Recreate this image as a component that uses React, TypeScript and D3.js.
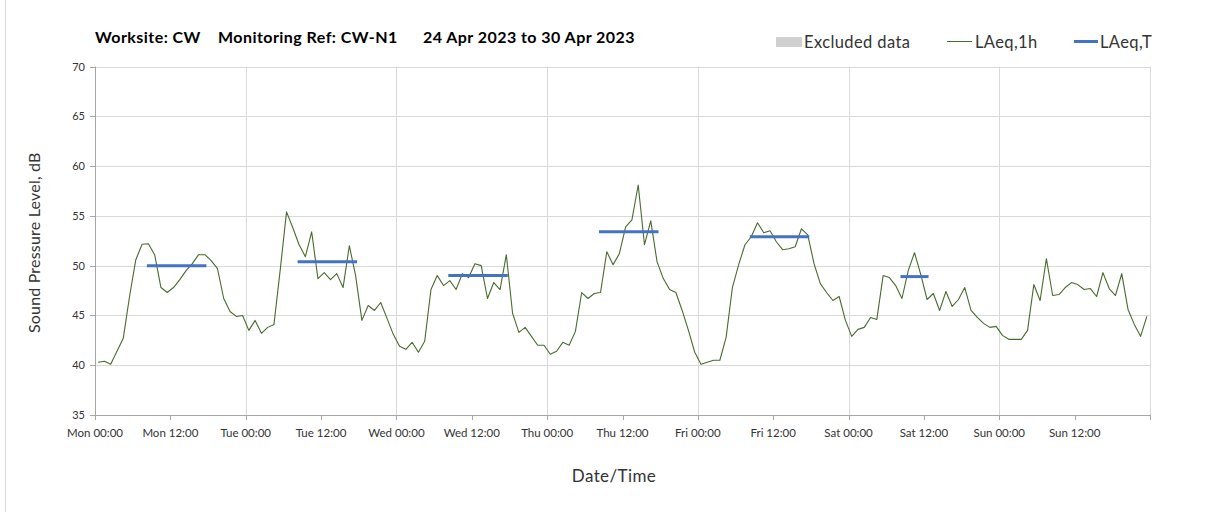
import React from 'react';
import * as d3 from 'd3';

// Hourly LAeq,1h values (dB), one array per day, Mon 24 Apr – Sun 30 Apr 2023
const monValues = [40.3, 40.4, 40.1, 41.4, 42.7, 46.9, 50.6, 52.15, 52.2, 51.1, 47.8, 47.3, 47.8, 48.6, 49.5, 50.2, 51.1, 51.1, 50.5, 49.7, 46.7, 45.4, 44.9, 45.0];
const tueValues = [43.5, 44.5, 43.2, 43.8, 44.1, 49.6, 55.4, 53.8, 52.1, 50.9, 53.4, 48.7, 49.3, 48.6, 49.2, 47.8, 52.0, 49.0, 44.5, 46.0, 45.5, 46.3, 44.7, 43.1];
const wedValues = [41.9, 41.6, 42.3, 41.3, 42.4, 47.6, 49.0, 48.0, 48.5, 47.6, 49.2, 48.8, 50.2, 50.0, 46.7, 48.3, 47.6, 51.1, 45.2, 43.3, 43.8, 42.9, 42.0, 42.0];
const thuValues = [41.1, 41.4, 42.3, 42.0, 43.4, 47.3, 46.7, 47.2, 47.3, 51.4, 50.1, 51.2, 53.9, 54.6, 58.1, 52.1, 54.5, 50.4, 48.7, 47.6, 47.3, 45.5, 43.5, 41.3];
const friValues = [40.1, 40.3, 40.5, 40.5, 42.8, 47.8, 50.1, 52.1, 52.9, 54.3, 53.3, 53.5, 52.4, 51.6, 51.7, 51.9, 53.7, 53.1, 50.2, 48.2, 47.3, 46.5, 46.9, 44.5];
const satValues = [42.9, 43.6, 43.8, 44.8, 44.6, 49.0, 48.8, 48.0, 46.7, 49.5, 51.3, 49.1, 46.6, 47.2, 45.5, 47.4, 45.9, 46.6, 47.8, 45.5, 44.8, 44.2, 43.8, 43.9];
const sunValues = [43.0, 42.6, 42.6, 42.6, 43.5, 48.1, 46.5, 50.7, 47.0, 47.1, 47.8, 48.3, 48.1, 47.6, 47.7, 46.9, 49.3, 47.7, 47.0, 49.2, 45.6, 44.1, 42.9, 44.9];

const hourlyValues = [...monValues, ...tueValues, ...wedValues, ...thuValues, ...friValues, ...satValues, ...sunValues];

// LAeq,T (daytime period averages)
const laeqTDay = [0, 1, 2, 3, 4, 5];
const laeqTValue = [50.0, 50.4, 49.0, 53.4, 52.9, 48.9];
const laeqTStartHour = [8, 8, 8, 8, 8, 8];
const laeqTEndHour = [18, 18, 18, 18, 18, 13];

const dayNames = ['Mon', 'Tue', 'Wed', 'Thu', 'Fri', 'Sat', 'Sun'];
const xTickHours = d3.range(0, 168, 12);
const xTickLabels = xTickHours.map((h) => `${dayNames[Math.floor(h / 24)]} ${h % 24 === 0 ? '00' : '12'}:00`);
const yTicks = [35, 40, 45, 50, 55, 60, 65, 70];

const W = 1208;
const H = 512;
const left = 95;
const right = 1150;
const top = 66.5;
const bottom = 415;

const FONT = 'Lato, "Open Sans", sans-serif';

export default function App() {
  const x = d3.scaleLinear().domain([0, 168]).range([left, right]);
  const y = d3.scaleLinear().domain([35, 70]).range([bottom, top]);

  const line = d3
    .line<number>()
    .x((_, i) => x(i + 0.5))
    .y((d) => y(d));

  const dayLines = d3.range(1, 8).map((d) => d * 24);

  return (
    <svg width={W} height={H} style={{ position: 'absolute', left: 0, top: 0, background: '#fff' }}>
      <rect x={0} y={0} width={W} height={H} fill="#fff" />
      <line x1={5.5} x2={5.5} y1={0} y2={H} stroke="#d9d9d9" />

      {/* Title */}
      <g fontFamily={FONT} fontWeight="bold" fontSize={16} fill="#000" letterSpacing={0.45}>
        <text x={95} y={43}>Worksite: CW</text>
        <text x={218} y={43}>Monitoring Ref: CW-N1</text>
        <text x={423} y={43}>24 Apr 2023 to 30 Apr 2023</text>
      </g>

      {/* Legend */}
      <g fontFamily={FONT} fontSize={16.5} fill="#333" letterSpacing={0.4}>
        <rect x={776} y={37} width={26} height={10} fill="#d0d0d0" />
        <text x={804} y={47.5}>Excluded data</text>
        <line x1={947} x2={972} y1={41.5} y2={41.5} stroke="#4a6b2e" strokeWidth={1} />
        <text x={975} y={47.5}>LAeq,1h</text>
        <line x1={1074} x2={1098} y1={41.5} y2={41.5} stroke="#4472c4" strokeWidth={3} />
        <text x={1100} y={47.5}>LAeq,T</text>
      </g>

      {/* Grid */}
      <g stroke="#d9d9d9" strokeWidth={1}>
        {yTicks.filter((t) => t > 35).map((t) => (
          <line key={t} x1={left} x2={right} y1={Math.round(y(t)) + 0.5} y2={Math.round(y(t)) + 0.5} />
        ))}
        {dayLines.map((h) => (
          <line key={h} x1={Math.round(x(h)) + 0.5} x2={Math.round(x(h)) + 0.5} y1={top} y2={bottom} />
        ))}
      </g>

      {/* Axes */}
      <g stroke="#a6a6a6" strokeWidth={1}>
        <line x1={left + 0.5} x2={left + 0.5} y1={top} y2={bottom + 0.5} />
        <line x1={left} x2={right} y1={bottom + 0.5} y2={bottom + 0.5} />
        {yTicks.map((t) => (
          <line key={t} x1={left - 5} x2={left} y1={Math.round(y(t)) + 0.5} y2={Math.round(y(t)) + 0.5} />
        ))}
        {[...xTickHours, 168].map((h) => (
          <line key={h} x1={Math.round(x(h)) + 0.5} x2={Math.round(x(h)) + 0.5} y1={bottom} y2={bottom + 5} />
        ))}
      </g>

      {/* Y tick labels */}
      <g fontFamily={FONT} fontSize={11} fill="#333" textAnchor="end">
        {yTicks.map((t) => (
          <text key={t} x={85} y={y(t) + 4}>{t}</text>
        ))}
      </g>

      {/* X tick labels */}
      <g fontFamily={FONT} fontSize={11.5} fill="#333" textAnchor="middle">
        {xTickHours.map((h, i) => (
          <text key={h} x={x(h)} y={437}>{xTickLabels[i]}</text>
        ))}
      </g>

      {/* Axis titles */}
      <text x={614} y={482} textAnchor="middle" fontFamily={FONT} fontSize={17} letterSpacing={0.4} fill="#333">Date/Time</text>
      <text
        transform={`translate(40, ${(top + bottom) / 2 + 2}) rotate(-90)`}
        textAnchor="middle"
        fontFamily={FONT}
        fontSize={16}
        letterSpacing={0.2}
        fill="#333"
      >
        Sound Pressure Level, dB
      </text>

      {/* LAeq,1h line */}
      <path d={line(hourlyValues) || ''} fill="none" stroke="#4a6b2e" strokeWidth={1.1} strokeLinejoin="round" />

      {/* LAeq,T segments */}
      <g stroke="#4472c4" strokeWidth={3} strokeLinecap="square">
        {laeqTDay.map((d, i) => (
          <line
            key={d}
            x1={x(d * 24 + laeqTStartHour[i] + 0.5)}
            x2={x(d * 24 + laeqTEndHour[i] - 0.5)}
            y1={y(laeqTValue[i])}
            y2={y(laeqTValue[i])}
          />
        ))}
      </g>
    </svg>
  );
}
